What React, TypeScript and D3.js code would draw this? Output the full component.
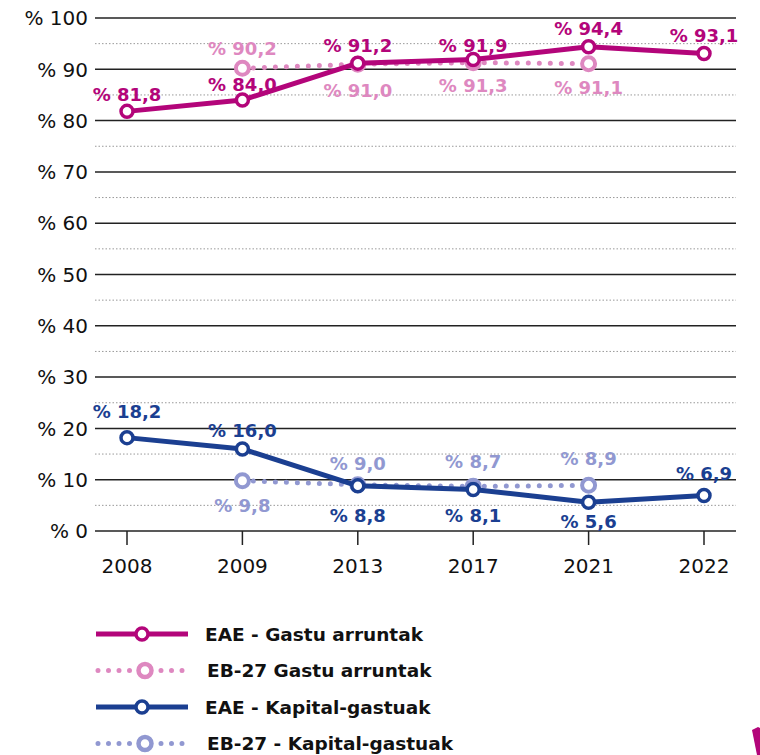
import React from "react";
import * as d3 from "d3";

const years = ["2008", "2009", "2013", "2017", "2021", "2022"];
const eaeGastu = [81.8, 84.0, 91.2, 91.9, 94.4, 93.1];
const euGastu: (number | null)[] = [null, 90.2, 91.0, 91.3, 91.1, null];
const eaeKapital = [18.2, 16.0, 8.8, 8.1, 5.6, 6.9];
const euKapital: (number | null)[] = [null, 9.8, 9.0, 8.7, 8.9, null];
const yTicks = [0, 10, 20, 30, 40, 50, 60, 70, 80, 90, 100];
const yMinor = [5, 15, 25, 35, 45, 55, 65, 75, 85, 95];

// label baseline offsets from the point (px): negative = above, positive = below
const eaeGastuDy = [-10, -9, -11, -8, -12, -11];
const euGastuDy = [0, -13, 33, 29, 30, 0];
const eaeKapitalDy = [-20, -12, 36, 33, 26, -16];
const euKapitalDy = [0, 31, -15, -18, -20, 0];

const legendLabels = [
  "EAE - Gastu arruntak",
  "EB-27 Gastu arruntak",
  "EAE - Kapital-gastuak",
  "EB-27 - Kapital-gastuak",
];

const C_EAE_G = "#b3057a";
const C_EU_G = "#de88c0";
const C_EAE_K = "#1b3f91";
const C_EU_K = "#9198d1";

const fmt = (v: number) => "% " + v.toFixed(1).replace(".", ",");

export default function App() {
  const W = 760;
  const H = 755;
  const left = 95;
  const right = 736;
  const x = d3.scalePoint<string>().domain(years).range([127, 704]);
  const y = d3.scaleLinear().domain([0, 100]).range([531, 18]);

  const line = d3
    .line<number | null>()
    .defined((d) => d != null)
    .x((_, i) => x(years[i])!)
    .y((d) => y(d as number));

  const series = [
    { data: eaeGastu as (number | null)[], color: C_EAE_G, dotted: false, dy: eaeGastuDy },
    { data: euGastu, color: C_EU_G, dotted: true, dy: euGastuDy },
    { data: eaeKapital as (number | null)[], color: C_EAE_K, dotted: false, dy: eaeKapitalDy },
    { data: euKapital, color: C_EU_K, dotted: true, dy: euKapitalDy },
  ];
  const drawOrder = [1, 0, 3, 2];

  const font = "'DejaVu Sans', sans-serif";

  return (
    <svg width={W} height={H} style={{ position: "absolute", left: 0, top: 0 }}>
      <rect width={W} height={H} fill="#fff" />
      {yMinor.map((t) => (
        <line key={"m" + t} x1={left} x2={right} y1={y(t)} y2={y(t)} stroke="#999" strokeWidth={1} strokeDasharray="1.5 2" />
      ))}
      {yTicks.map((t) => (
        <line key={"g" + t} x1={left} x2={right} y1={y(t)} y2={y(t)} stroke="#222" strokeWidth={1.5} />
      ))}
      {yTicks.map((t) => (
        <text key={"yl" + t} x={88} y={y(t)} dy="0.36em" textAnchor="end" fontFamily={font} fontSize={20} fill="#111">
          {"% " + t}
        </text>
      ))}
      {years.map((yr) => (
        <g key={yr}>
          <line x1={x(yr)} x2={x(yr)} y1={y(0)} y2={y(0) + 14} stroke="#222" strokeWidth={1.5} />
          <text x={x(yr)} y={573} textAnchor="middle" fontFamily={font} fontSize={20} fill="#111">
            {yr}
          </text>
        </g>
      ))}
      {drawOrder.map((si) => {
        const s = series[si];
        return (
          <g key={"s" + si}>
            <path
              d={line(s.data) || ""}
              fill="none"
              stroke={s.color}
              strokeWidth={5}
              strokeLinecap="round"
              strokeLinejoin="round"
              strokeDasharray={s.dotted ? "0 11" : undefined}
            />
            {s.data.map((v, i) =>
              v == null ? null : (
                <circle key={i} cx={x(years[i])} cy={y(v)} r={s.dotted ? 6.5 : 6} fill="#fff" stroke={s.color} strokeWidth={s.dotted ? 4 : 3.5} />
              )
            )}
          </g>
        );
      })}
      {series.map((s, si) =>
        s.data.map((v, i) =>
          v == null ? null : (
            <text
              key={"l" + si + "-" + i}
              x={x(years[i])}
              y={y(v) + s.dy[i]}
              textAnchor="middle"
              fontFamily={font}
              fontWeight={700}
              fontSize={18}
              fill={s.color}
            >
              {fmt(v)}
            </text>
          )
        )
      )}
      {series.map((s, i) => {
        const ly = 634 + i * 36.5;
        return (
          <g key={"lg" + i}>
            <line
              x1={s.dotted ? 98 : 96}
              x2={s.dotted ? 192 : 188}
              y1={ly}
              y2={ly}
              stroke={s.color}
              strokeWidth={5}
              strokeLinecap={s.dotted ? "round" : "butt"}
              strokeDasharray={s.dotted ? "0 10.5" : undefined}
            />
            <circle cx={s.dotted ? 145 : 142} cy={ly} r={s.dotted ? 6.5 : 6} fill="#fff" stroke={s.color} strokeWidth={s.dotted ? 4.5 : 3.5} />
            <text x={s.dotted ? 207 : 205} y={ly} dy="0.36em" fontFamily={font} fontWeight={700} fontSize={18.5} fill="#111">
              {legendLabels[i]}
            </text>
          </g>
        );
      })}
      <path d="M752,730 L758,727 L760,728 L760,755 L757,755 Z" fill={C_EAE_G} />
    </svg>
  );
}
